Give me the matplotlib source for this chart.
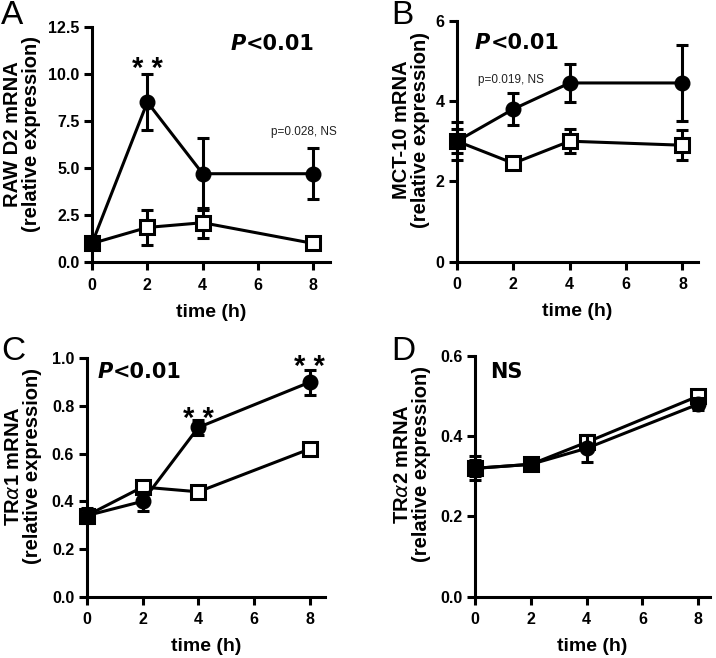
import numpy as np
import matplotlib
matplotlib.use("Agg")
import matplotlib.pyplot as plt

plt.rcParams['font.family'] = ['Liberation Sans', 'DejaVu Sans']
plt.rcParams['mathtext.fontset'] = 'dejavusans'

time = [0, 2, 4, 8]

# panel A: RAW D2
a_filled = [1.0, 8.5, 4.7, 4.7]
a_filled_err = [0.15, 1.5, 1.9, 1.35]
a_open = [1.0, 1.85, 2.1, 1.0]
a_open_err = [0.1, 0.95, 0.8, 0.2]

# panel B: MCT-10
b_filled = [3.0, 3.8, 4.45, 4.45]
b_filled_err = [0.47, 0.4, 0.47, 0.95]
b_open = [3.0, 2.45, 3.0, 2.9]
b_open_err = [0.3, 0.1, 0.3, 0.37]

# panel C: TRa1
c_filled = [0.34, 0.40, 0.71, 0.90]
c_filled_err = [0.03, 0.04, 0.03, 0.053]
c_open = [0.34, 0.46, 0.44, 0.62]
c_open_err = [0.02, 0.01, 0.01, 0.01]

# panel D: TRa2
d_filled = [0.32, 0.33, 0.37, 0.48]
d_filled_err = [0.03, 0.01, 0.033, 0.015]
d_open = [0.32, 0.33, 0.385, 0.50]
d_open_err = [0.02, 0.01, 0.01, 0.01]

LW = 2.2

fig = plt.figure(figsize=(7.16, 6.58), dpi=100)

def px_axes(l, r, t, b):
    W, H = 716, 658
    return fig.add_axes([l / W, 1 - b / H, (r - l) / W, (b - t) / H])

def draw(ax, y_f, e_f, y_o, e_o, ylim, yticks, yfmt, xmax, ylabel, lab_x, lab_y):
    ax.errorbar(time, y_o, yerr=e_o, fmt='none', ecolor='black', elinewidth=LW,
                capsize=4.3, capthick=LW, zorder=3, clip_on=False)
    ax.plot(time, y_o, '-s', color='black', lw=LW, ms=10, mew=2.2,
            mfc='white', mec='black', zorder=4, clip_on=False)
    ax.errorbar(time, y_f, yerr=e_f, fmt='none', ecolor='black', elinewidth=LW,
                capsize=4.3, capthick=LW, zorder=5, clip_on=False)
    ax.plot(time, y_f, '-o', color='black', lw=LW, ms=10.5, mew=1,
            mfc='black', mec='black', zorder=6, clip_on=False)
    ax.set_xlim(0, xmax)
    ax.set_ylim(*ylim)
    ax.set_xticks([0, 2, 4, 6, 8])
    ax.set_yticks(yticks)
    ax.set_yticklabels([yfmt % v for v in yticks])
    for s in ['top', 'right']:
        ax.spines[s].set_visible(False)
    for s in ['left', 'bottom']:
        ax.spines[s].set_linewidth(LW)
    ax.tick_params(width=LW, length=6, direction='out', labelsize=11.5)
    ax.tick_params(axis='x', pad=5)
    ax.tick_params(axis='y', pad=3)
    for lab in ax.get_xticklabels() + ax.get_yticklabels():
        lab.set_fontweight('bold')
    ax.set_xlabel('time (h)', fontsize=14, fontweight='bold', labelpad=8)
    ax.set_ylabel(ylabel, fontsize=14.5, fontweight='bold', linespacing=1.0, va='center')
    ax.yaxis.set_label_coords(lab_x, lab_y)

def pval(ax, x, y):
    t = ax.text(x, y, 'P', fontsize=15, fontweight='bold', style='italic',
                family='DejaVu Sans', va='center', ha='left')
    ax.annotate('<0.01', xy=(1, 0), xycoords=t, fontsize=15, fontweight='bold',
                family='DejaVu Sans', va='bottom', ha='left')

def stars(ax, x, y):
    ax.text(x, y, '* *', fontsize=21, fontweight='bold',
            ha='center', va='baseline')

axA = px_axes(92, 330, 26.7, 262.3)
draw(axA, a_filled, a_filled_err, a_open, a_open_err, (0, 12.5),
     [0, 2.5, 5.0, 7.5, 10.0, 12.5], '%.1f', 8.6,
     'RAW D2 mRNA\n(relative expression)', -0.294, 0.545)
pval(axA, 5.0, 11.6)
stars(axA, 2, 9.85)
axA.text(7.65, 6.9, 'p=0.028, NS', fontsize=8.5, color='#222222', ha='center', va='center')

axB = px_axes(457, 698, 20.7, 261.7)
draw(axB, b_filled, b_filled_err, b_open, b_open_err, (0, 6),
     [0, 2, 4, 6], '%d', 8.55,
     'MCT-10 mRNA\n(relative expression)', -0.191, 0.546)
pval(axB, 0.64, 5.44)
axB.text(1.91, 4.52, 'p=0.019, NS', fontsize=8.5, color='#222222', ha='center', va='center')

axC = px_axes(86.7, 325, 358.3, 596.7)
draw(axC, c_filled, c_filled_err, c_open, c_open_err, (0, 1.0),
     [0, 0.2, 0.4, 0.6, 0.8, 1.0], '%.1f', 8.54,
     'TR$\\alpha$1 mRNA\n(relative expression)', -0.267, 0.548)
pval(axC, 0.4, 0.944)
stars(axC, 4, 0.71)
stars(axC, 8, 0.93)

axD = px_axes(475, 710, 356, 596.7)
draw(axD, d_filled, d_filled_err, d_open, d_open_err, (0, 0.6),
     [0, 0.2, 0.4, 0.6], '%.1f', 8.42,
     'TR$\\alpha$2 mRNA\n(relative expression)', -0.268, 0.551)
axD.text(0.54, 0.561, 'NS', fontsize=15, fontweight='bold', family='DejaVu Sans',
         ha='left', va='center')

for letter, x, y in [('A', 1, 0), ('B', 391, 0), ('C', 1, 336), ('D', 391, 336)]:
    fig.text(x / 716, 1 - y / 658, letter, fontsize=24, ha='left', va='top')

fig.savefig('out.png', dpi=100)
